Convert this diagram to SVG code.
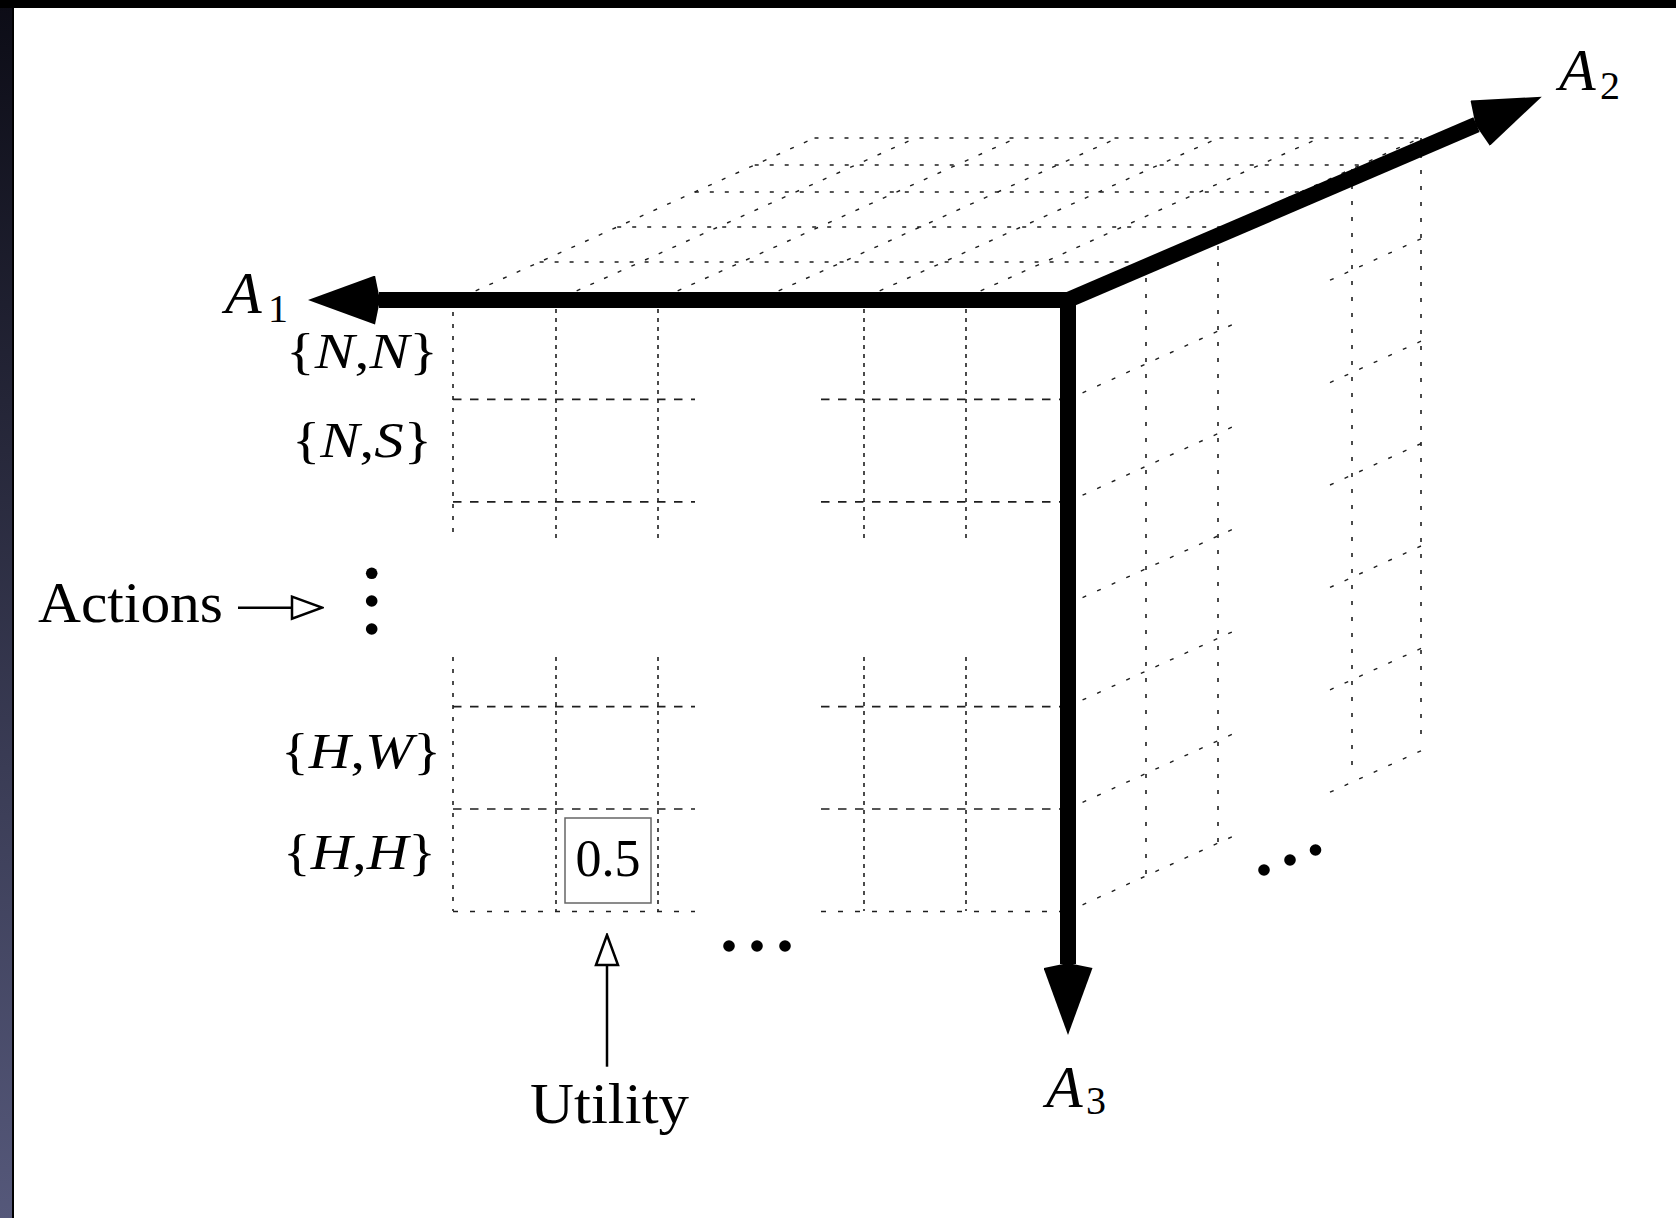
<svg xmlns="http://www.w3.org/2000/svg" width="1676" height="1218" viewBox="0 0 1676 1218">
<defs>
<linearGradient id="edge" x1="0" y1="0" x2="0" y2="1">
<stop offset="0" stop-color="#0c0c16"/>
<stop offset="1" stop-color="#55587a"/>
</linearGradient>
<marker id="bighead" markerUnits="userSpaceOnUse" viewBox="0 0 72 49" markerWidth="72" markerHeight="49" refX="1" refY="24.5" orient="auto">
<path d="M5,0 L72,24.5 L5,49 L0,24.5 Z" fill="#000"/>
</marker>
<marker id="openhead" markerUnits="userSpaceOnUse" viewBox="-2 -2 34 26" markerWidth="34" markerHeight="26" refX="0" refY="11" orient="auto">
<path d="M0,0 L30,11 L0,22 Z" fill="#fff" stroke="#000" stroke-width="2.5" stroke-linejoin="miter"/>
</marker>
</defs>
<style>
.g{fill:none;stroke:#1e1e1e}
.tp{stroke-width:1.4;stroke-dasharray:4 11}
.sd{stroke-width:1.4;stroke-dasharray:4 12}
.sv{stroke-width:1.6;stroke-dasharray:4 12}
.fh{stroke-width:1.7;stroke-dasharray:8.5 8.5}
.fb{stroke-width:1.5;stroke-dasharray:5 12}
.fv{stroke-width:1.6;stroke-dasharray:4 5}
.fv0{stroke-width:1.6;stroke-dasharray:4 8}
.axis{fill:none;stroke:#000;stroke-width:16;stroke-linecap:butt;marker-end:url(#bighead)}
.thin{fill:none;stroke:#000;stroke-width:2.5;marker-end:url(#openhead)}
.t{font-family:"Liberation Serif","Times New Roman",serif;fill:#000}
.ax{font-size:60px;font-style:italic}
.sub{font-size:40px;font-style:normal}
.lbl{font-size:50px}
.big{font-size:58px}
.num{font-size:52px}
.it{font-style:italic}
.dot{fill:#000}
</style>
<rect width="1676" height="1218" fill="#fff"/>
<g id="frame">
<rect x="0" y="0" width="13" height="1218" fill="url(#edge)"/>
<rect x="0" y="0" width="1676" height="8" fill="#000"/>
<line x1="13" y1="0" x2="13" y2="1218" stroke="#000" stroke-width="2"/>
</g>
<g id="top-plane" class="g">
<g class="tp">
<path d="M462,297 L814.5,138 M563,297 L915.5,138 M664,297 L1016.5,138 M765,297 L1117.5,138 M866,297 L1218.5,138 M967,297 L1319.5,138 M1068,297 L1420.5,138"/>
<path d="M539.6,262 H1145.6 M617.2,227 H1223.2 M694.8,192 H1300.8 M754.7,165 H1360.7 M814.5,138 H1420.5"/>
</g>
</g>
<g id="side-face" class="g">
<path class="sv" d="M1146,262 V875 M1218,230 V842 M1352,169 V776 M1421,138 V746"/>
<path class="sd" d="M1068,399.4 L1233,324.3 M1330,280.2 L1421,238.8 M1068,501.8 L1233,426.7 M1330,382.6 L1421,341.2 M1068,604.2 L1233,529.1 M1330,485 L1421,443.6 M1068,706.6 L1233,631.5 M1330,587.4 L1421,546 M1068,809 L1233,733.9 M1330,689.8 L1421,648.4 M1068,911.4 L1233,836.3 M1330,792.2 L1421,750.8"/>
</g>
<g id="front-face" class="g">
<path class="fv0" d="M453,300 V538 M453,657 V911"/>
<path class="fv" d="M556,300 V538 M658,300 V538 M864,300 V538 M966,300 V538 M556,657 V911 M658,657 V911 M864,657 V911 M966,657 V911"/>
<path class="fh" d="M453,399.4 H695 M821,399.4 H1062 M453,501.8 H695 M821,501.8 H1062 M453,706.6 H695 M821,706.6 H1062 M453,809 H695 M821,809 H1062"/>
<path class="fb" d="M453,911.4 H695 M821,911.4 H1062"/>
</g>
<g id="connectors">
<line class="axis" x1="1076" y1="300" x2="379" y2="300"/>
<line class="axis" x1="1068" y1="292" x2="1068" y2="964"/>
<line class="axis" x1="1068" y1="300" x2="1476.5" y2="124.7"/>
<line class="thin" x1="238" y1="607.7" x2="292" y2="607.7"/>
<line class="thin" x1="607" y1="1066.7" x2="607" y2="965"/>
</g>
<g id="node-A1"><text class="t ax" x="225" y="313">A<tspan class="sub" x="268" y="322">1</tspan></text></g>
<g id="node-A2"><text class="t ax" x="1559" y="90">A<tspan class="sub" x="1600" y="99">2</tspan></text></g>
<g id="node-A3"><text class="t ax" x="1046" y="1107">A<tspan class="sub" x="1086" y="1114">3</tspan></text></g>
<g id="node-NN"><text class="t lbl" x="286" y="368" textLength="152" lengthAdjust="spacingAndGlyphs">{<tspan class="it">N</tspan>,<tspan class="it">N</tspan>}</text></g>
<g id="node-NS"><text class="t lbl" x="292" y="457" textLength="140" lengthAdjust="spacingAndGlyphs">{<tspan class="it">N</tspan>,<tspan class="it">S</tspan>}</text></g>
<g id="node-HW"><text class="t lbl" x="281" y="768" textLength="160" lengthAdjust="spacingAndGlyphs">{<tspan class="it">H</tspan>,<tspan class="it">W</tspan>}</text></g>
<g id="node-HH"><text class="t lbl" x="283" y="869" textLength="153" lengthAdjust="spacingAndGlyphs">{<tspan class="it">H</tspan>,<tspan class="it">H</tspan>}</text></g>
<g id="node-actions"><text class="t big" x="38" y="622" textLength="185" lengthAdjust="spacingAndGlyphs">Actions</text></g>
<g id="node-utility"><text class="t big" x="530" y="1123" textLength="159" lengthAdjust="spacingAndGlyphs">Utility</text></g>
<g id="node-cell">
<rect x="565" y="818" width="86" height="85" fill="#fff" stroke="#666" stroke-width="1.5"/>
<text class="t num" x="608" y="876" text-anchor="middle">0.5</text>
</g>
<g id="dots-vertical">
<circle class="dot" cx="371.7" cy="573.3" r="5.8"/>
<circle class="dot" cx="371.7" cy="601" r="5.8"/>
<circle class="dot" cx="371.7" cy="629" r="5.8"/>
</g>
<g id="dots-horizontal">
<circle class="dot" cx="729" cy="946" r="5.8"/>
<circle class="dot" cx="757" cy="946" r="5.8"/>
<circle class="dot" cx="785" cy="946" r="5.8"/>
</g>
<g id="dots-diagonal">
<circle class="dot" cx="1264" cy="870" r="5.8"/>
<circle class="dot" cx="1290" cy="860" r="5.8"/>
<circle class="dot" cx="1315.5" cy="850" r="5.8"/>
</g>
</svg>
